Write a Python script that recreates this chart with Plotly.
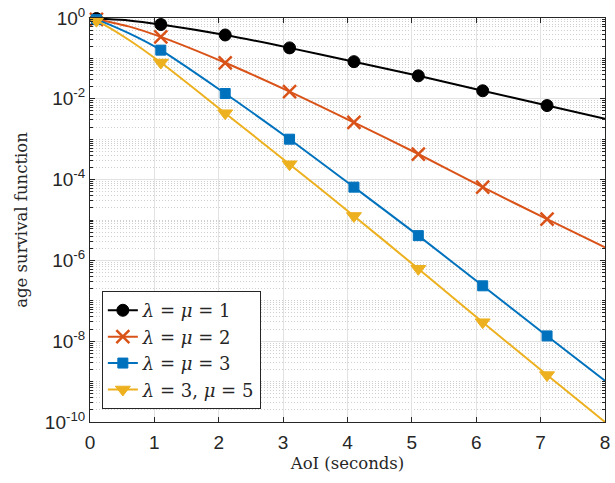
import plotly.graph_objects as go

# Age of information (AoI) survival function P(age > t) for four queue setups
t_curve = [0.0, 0.1, 0.6, 1.1, 2.1, 3.1, 4.1, 5.1, 6.1, 7.1, 8.0]
t_marks = [0.1, 1.1, 2.1, 3.1, 4.1, 5.1, 6.1, 7.1]

surv_mu1 = [1.0, 0.97, 0.87, 0.69, 0.38, 0.182, 0.083, 0.037, 0.0158, 0.0068, 0.0032]
surv_mu2 = [1.0, 0.93, 0.62, 0.34, 0.078, 0.0151, 0.0026, 4.3e-4, 6.5e-5, 1.05e-5, 2.1e-6]
surv_mu3 = [1.0, 0.91, 0.42, 0.16, 0.0135, 1.0e-3, 6.5e-5, 4.1e-6, 2.35e-7, 1.35e-8, 1.05e-9]
surv_l3m5 = [1.0, 0.86, 0.29, 0.079, 0.0044, 2.4e-4, 1.26e-5, 6.2e-7, 2.95e-8, 1.45e-9, 1.0e-10]

labels = [
    "<i>λ</i> = <i>μ</i> = 1",
    "<i>λ</i> = <i>μ</i> = 2",
    "<i>λ</i> = <i>μ</i> = 3",
    "<i>λ</i> = 3, <i>μ</i> = 5",
]
colors = ["#000000", "#D95319", "#0072BD", "#EDB120"]
symbols = ["circle", "x-thin", "square", "triangle-down"]
sizes = [12, 13, 10, 13]

series = [surv_mu1, surv_mu2, surv_mu3, surv_l3m5]

fig = go.Figure()
for k, ys in enumerate(series):
    mark_y = [y for t, y in zip(t_curve, ys) if t in t_marks]
    marker = dict(
        symbol=symbols[k], size=sizes[k], color=colors[k],
        line=dict(color=colors[k], width=2.5 if symbols[k] == "x-thin" else 1),
    )
    # smooth curve
    fig.add_trace(go.Scatter(
        x=t_curve, y=ys, mode="lines",
        line=dict(color=colors[k], width=2, shape="spline", smoothing=0.8),
        showlegend=False, hoverinfo="skip",
    ))
    # sample markers
    fig.add_trace(go.Scatter(
        x=t_marks, y=mark_y, mode="markers", marker=marker,
        showlegend=False, cliponaxis=False,
    ))
    # legend entry (line + marker)
    fig.add_trace(go.Scatter(
        x=[None], y=[None], mode="lines+markers", name=labels[k],
        line=dict(color=colors[k], width=2), marker=marker,
    ))

major_y = [10.0 ** e for e in range(0, -11, -2)]
major_text = [f"10<sup>{e}</sup>" for e in range(0, -11, -2)]
minor_y = []
for e in range(-10, 0):
    for m in range(1, 10):
        if m == 1 and e % 2 == 0:
            continue
        minor_y.append(m * 10.0 ** e)

axis_font = dict(family="Liberation Sans, Arial, sans-serif", size=19, color="#262626")
label_font = dict(family="DejaVu Serif, serif", size=16.5, color="#262626")

fig.update_layout(
    width=615, height=483,
    margin=dict(l=90, r=5, t=16, b=61),
    paper_bgcolor="white", plot_bgcolor="white",
    xaxis=dict(
        range=[0, 8], tickvals=list(range(0, 9)), ticks="inside", ticklen=5,
        tickcolor="#262626", showline=True, linecolor="#262626", linewidth=1,
        mirror="ticks", showgrid=True, gridcolor="#e2e2e2", gridwidth=1,
        zeroline=False, tickfont=axis_font, ticklabelstandoff=3,
        ticklabeloverflow="allow",
        title=dict(text="AoI (seconds)", font=label_font, standoff=5),
    ),
    yaxis=dict(
        type="log", range=[-10, 0], tickmode="array", tickvals=major_y,
        ticktext=major_text, ticks="inside", ticklen=5, tickcolor="#262626",
        showline=True, linecolor="#262626", linewidth=1, mirror="ticks",
        showgrid=True, gridcolor="#e2e2e2", gridwidth=1, zeroline=False,
        tickfont=axis_font, ticklabeloverflow="allow",
        minor=dict(
            tickmode="array", tickvals=minor_y, ticks="inside", ticklen=3,
            tickcolor="#262626", showgrid=True, gridcolor="#cfcfcf",
            griddash="1px,2px", gridwidth=1,
        ),
        title=dict(text="age survival function", font=label_font, standoff=13),
    ),
    legend=dict(
        x=0.023, y=0.032, xanchor="left", yanchor="bottom",
        bgcolor="white", bordercolor="#262626", borderwidth=1,
        font=dict(family="DejaVu Serif, serif", size=18, color="#262626"),
        traceorder="normal", itemwidth=30,
    ),
)

fig.write_html("out.html")
